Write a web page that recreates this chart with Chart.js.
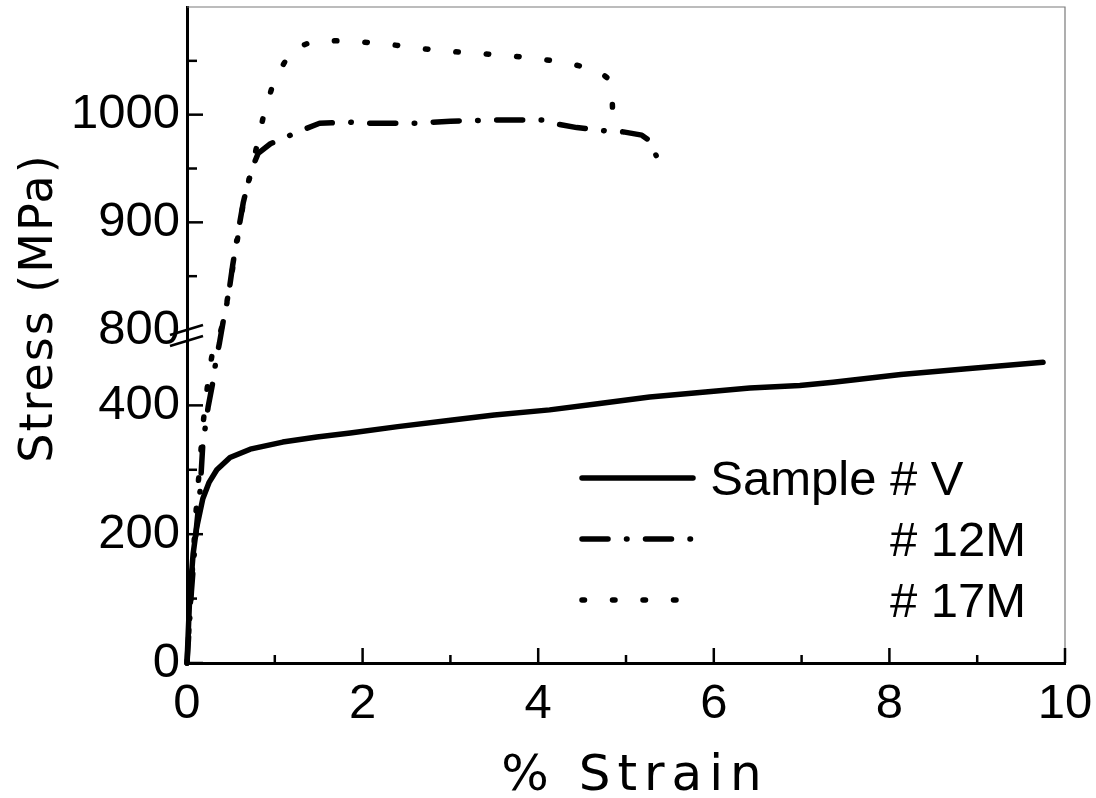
<!DOCTYPE html>
<html>
<head>
<meta charset="utf-8">
<title>Stress vs Strain</title>
<script src="https://cdn.jsdelivr.net/npm/chart.js@4.4.1/dist/chart.umd.min.js"></script>
<style>
  html, body { margin: 0; padding: 0; background: #fff; }
  #wrap { width: 1096px; height: 798px; }
</style>
</head>
<body>
<div id="wrap"><canvas id="stress-chart" width="1096" height="798"></canvas></div>
<script>
// --- data (strain in %, stress in MPa) ---
const STRAIN_V  = [0, 0.03, 0.07, 0.11, 0.18, 0.25, 0.34, 0.49, 0.72, 1.09, 1.48, 1.86, 2.4, 3.0, 3.5, 4.13, 4.7, 5.27, 5.84, 6.41, 6.98, 7.36, 8.13, 8.88, 9.75];
const STRESS_V  = [0, 100, 170, 210, 255, 280, 300, 319, 332, 343, 351, 357, 367, 377, 385, 393, 403, 413, 420, 427, 431, 436, 448, 457, 467];

const STRAIN_12M = [0, 0.05, 0.10, 0.15, 0.18, 0.24, 0.30, 0.33, 0.37, 0.41, 0.47, 0.52, 0.58, 0.64, 0.69, 0.75, 0.81, 0.95, 1.12, 1.32, 1.51, 1.86, 2.05, 2.6, 3.0, 3.5, 4.04, 4.24, 4.44, 4.76, 4.97, 5.18, 5.25, 5.30, 5.35];
const STRESS_12M = [0, 110, 200, 269, 339, 397, 440, 470, 497, 807, 831, 860, 890, 918, 935, 952, 964, 973, 979, 986, 992, 993, 992, 992, 994, 995, 995, 991, 988, 985, 984, 981, 977, 969, 961];

const STRAIN_17M = [0, 0.05, 0.10, 0.14, 0.19, 0.25, 0.30, 0.36, 0.41, 0.47, 0.53, 0.59, 0.66, 0.73, 0.80, 0.88, 0.99, 1.19, 1.37, 1.55, 1.90, 2.25, 2.6, 2.95, 3.3, 3.65, 4.0, 4.34, 4.68, 4.79, 4.84, 4.85];
const STRESS_17M = [0, 120, 230, 300, 380, 450, 490, 560, 807, 833, 862, 892, 927, 946, 973, 1002, 1031, 1060, 1066, 1069, 1068, 1066, 1062, 1059, 1057, 1055, 1052, 1048, 1041, 1034, 1020, 998];

const SERIES_LABELS = ['Sample # V', '# 12M', '# 17M'];

// axis ticks (broken stress axis: 0-500 below, 800-1100 above)
const X_TICK_LABELS = [0, 2, 4, 6, 8, 10];
const Y_TICK_VALUES = [0, 100, 200, 300, 400, 800, 850, 900, 950, 1000, 1050];
const Y_TICK_LABELS = [0, 200, 400, 800, 900, 1000];
const Y_BREAK_LOW = 500;
const Y_BREAK_HIGH = 800;
const Y_MAX = 1100;

// share of the axis height used by the lower part and by the gap
const LOW_SHARE = 0.4909;
const GAP_END = 0.5076;

const TICK_FONT = '"Liberation Sans", Arial, sans-serif';
const TITLE_FONT = '"Comic Sans MS", "DejaVu Sans", sans-serif';

// --- a linear scale with a gap between Y_BREAK_LOW and Y_BREAK_HIGH ---
class BrokenLinearScale extends Chart.LinearScale {
    static id = 'brokenLinear';
    static defaults = Chart.LinearScale.defaults;

    determineDataLimits() {
        this.min = 0;
        this.max = Y_MAX;
    }
    buildTicks() {
        return Y_TICK_VALUES.map(v => ({ value: v }));
    }
    toDecimal(v) {
        if (v <= Y_BREAK_LOW) return v / Y_BREAK_LOW * LOW_SHARE;
        if (v < Y_BREAK_HIGH) return LOW_SHARE + (v - Y_BREAK_LOW) / (Y_BREAK_HIGH - Y_BREAK_LOW) * (GAP_END - LOW_SHARE);
        return GAP_END + (v - Y_BREAK_HIGH) / (Y_MAX - Y_BREAK_HIGH) * (1 - GAP_END);
    }
    getPixelForValue(v) {
        return v === null ? NaN : this.getPixelForDecimal(this.toDecimal(v));
    }
    getValueForPixel(p) {
        const d = this.getDecimalForPixel(p);
        if (d <= LOW_SHARE) return d / LOW_SHARE * Y_BREAK_LOW;
        if (d < GAP_END) return Y_BREAK_LOW + (d - LOW_SHARE) / (GAP_END - LOW_SHARE) * (Y_BREAK_HIGH - Y_BREAK_LOW);
        return Y_BREAK_HIGH + (d - GAP_END) / (1 - GAP_END) * (Y_MAX - Y_BREAK_HIGH);
    }
}
Chart.register(BrokenLinearScale);

const toPoints = (xs, ys) => xs.map((x, i) => ({ x, y: ys[i] }));

// inward ticks, frame, axis break, legend and axis titles
const decorations = {
    id: 'decorations',
    afterDatasetsDraw(chart) {
        const { ctx, chartArea: a, scales: { x, y } } = chart;
        ctx.save();

        // thin top/right frame
        ctx.strokeStyle = '#7a7a7a';
        ctx.lineWidth = 1.2;
        ctx.beginPath();
        ctx.moveTo(a.left, a.top);
        ctx.lineTo(a.right, a.top);
        ctx.lineTo(a.right, a.bottom);
        ctx.stroke();

        // ticks pointing into the plot
        ctx.strokeStyle = '#000';
        ctx.lineWidth = 2.5;
        x.ticks.forEach(t => {
            const px = x.getPixelForValue(t.value);
            const len = X_TICK_LABELS.includes(t.value) ? 15 : 8;
            ctx.beginPath();
            ctx.moveTo(px, a.bottom);
            ctx.lineTo(px, a.bottom - len);
            ctx.stroke();
        });
        y.ticks.forEach(t => {
            if (t.value === Y_BREAK_HIGH) return;
            const py = y.getPixelForValue(t.value);
            const len = Y_TICK_LABELS.includes(t.value) ? 16 : 10;
            ctx.beginPath();
            ctx.moveTo(a.left, py);
            ctx.lineTo(a.left + len, py);
            ctx.stroke();
        });

        // axis break marks
        ctx.lineWidth = 2.5;
        [Y_BREAK_LOW, Y_BREAK_HIGH].forEach(v => {
            const py = y.getPixelForValue(v);
            ctx.beginPath();
            ctx.moveTo(a.left - 17, py + 5);
            ctx.lineTo(a.left + 16, py - 5);
            ctx.stroke();
        });

        // legend inside the plot
        const rows = [478, 539, 600];
        ctx.font = '49px ' + TICK_FONT;
        ctx.fillStyle = '#000';
        ctx.textBaseline = 'middle';
        chart.data.datasets.forEach((ds, i) => {
            ctx.save();
            ctx.strokeStyle = ds.borderColor;
            ctx.lineWidth = ds.borderWidth;
            ctx.lineCap = 'round';
            ctx.setLineDash(ds.borderDash || []);
            ctx.beginPath();
            ctx.moveTo(582, rows[i]);
            ctx.lineTo(693, rows[i]);
            ctx.stroke();
            ctx.restore();
            const text = ds.label;
            const before = text.slice(0, text.indexOf('#'));
            const tx = 890 - ctx.measureText(before).width;
            ctx.textAlign = 'left';
            ctx.fillText(text, Math.max(tx, 708), rows[i] + 3);
        });

        // axis titles
        ctx.font = '50px ' + TITLE_FONT;
        ctx.textAlign = 'center';
        ctx.textBaseline = 'alphabetic';
        ctx.letterSpacing = '7px';
        ctx.fillText('% Strain', (a.left + a.right) / 2 + 9, 790);
        ctx.font = '46px ' + TITLE_FONT;
        ctx.letterSpacing = '2px';
        ctx.translate(40, 308);
        ctx.rotate(-Math.PI / 2);
        ctx.textBaseline = 'middle';
        ctx.fillText('Stress (MPa)', 0, 0);

        ctx.restore();
    }
};

const lineStyle = { borderColor: '#000', backgroundColor: '#000', borderWidth: 5.5, pointRadius: 0,
    borderCapStyle: 'round', borderJoinStyle: 'round', tension: 0, fill: false, clip: false };

new Chart(document.getElementById('stress-chart'), {
    type: 'line',
    data: {
        datasets: [
            { ...lineStyle, label: SERIES_LABELS[0], data: toPoints(STRAIN_V, STRESS_V) },
            { ...lineStyle, label: SERIES_LABELS[1], data: toPoints(STRAIN_12M, STRESS_12M), borderDash: [26, 18.5, 0.5, 18.5] },
            { ...lineStyle, label: SERIES_LABELS[2], data: toPoints(STRAIN_17M, STRESS_17M), borderDash: [2.5, 28] }
        ]
    },
    options: {
        responsive: false,
        animation: false,
        devicePixelRatio: 1,
        layout: { padding: { top: 7, right: 31, left: 0, bottom: 0 } },
        plugins: { legend: { display: false }, tooltip: { enabled: false } },
        scales: {
            x: {
                type: 'linear',
                min: 0, max: 10,
                grid: { display: false, drawTicks: false },
                border: { display: true, color: '#000', width: 3 },
                ticks: {
                    stepSize: 1, autoSkip: false, maxRotation: 0, padding: 12,
                    color: '#000', font: { family: TICK_FONT, size: 49 },
                    callback: v => X_TICK_LABELS.includes(v) ? String(v) : ''
                },
                afterFit: s => { s.height = 135; s.paddingLeft = 0; s.paddingRight = 0; }
            },
            y: {
                type: 'brokenLinear',
                grid: { display: false, drawTicks: false },
                border: { display: true, color: '#000', width: 3 },
                ticks: {
                    autoSkip: false, padding: 7,
                    color: '#000', font: { family: TICK_FONT, size: 49 },
                    callback: v => Y_TICK_LABELS.includes(v) ? String(v) : ''
                },
                afterFit: s => { s.width = 187; s.paddingTop = 0; s.paddingBottom = 0; }
            }
        }
    },
    plugins: [decorations]
});
</script>
</body>
</html>
